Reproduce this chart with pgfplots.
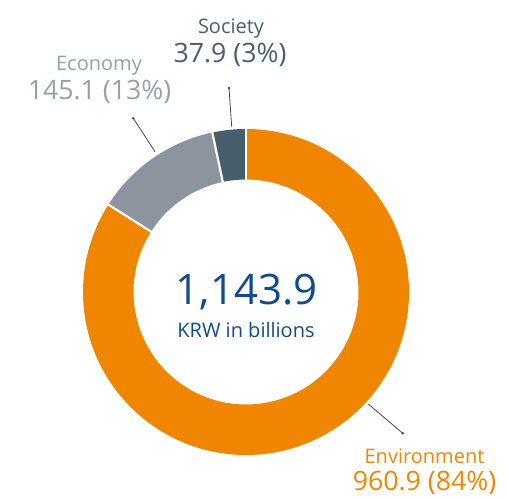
\documentclass[border=0pt]{standalone}
\usepackage{pgfplots}
\pgfplotsset{compat=1.18}
\usepackage{pgfplotstable}
\usepackage{fontspec}
\setmainfont{Open Sans}
\definecolor{envc}{RGB}{240,134,0}
\definecolor{ecoc}{RGB}{140,149,157}
\definecolor{socc}{RGB}{71,95,109}
\definecolor{ecot}{RGB}{150,160,168}
\definecolor{ctrblue}{RGB}{16,75,140}
\definecolor{leader}{RGB}{70,70,70}
\pgfplotstableread{
label value
Environment 960.9
Economy 145.1
Society 37.9
}\datatable
\begin{document}
\begin{tikzpicture}
\pgfplotstablegetelem{0}{value}\of\datatable \let\vEnv\pgfplotsretval
\pgfplotstablegetelem{1}{value}\of\datatable \let\vEco\pgfplotsretval
\pgfplotstablegetelem{2}{value}\of\datatable \let\vSoc\pgfplotsretval
\pgfmathsetmacro\tot{\vEnv+\vEco+\vSoc}
\pgfmathsetmacro\aA{90}
\pgfmathsetmacro\aB{90-360*(\vEnv/\tot)}
\pgfmathsetmacro\aC{\aB-360*(\vEco/\tot)}
\pgfmathsetmacro\aD{\aC-360*(\vSoc/\tot)}
\def\Ro{163pt}\def\Ri{112.5pt}
\begin{axis}[x=1pt,y=1pt,xmin=-246,xmax=260,ymin=-206,ymax=292,
  hide axis,clip=false,scale only axis]
\path (axis cs:-246,-206) rectangle (axis cs:260,292);
% sectors
\fill[envc,shift={(axis cs:0,0)}] (\aA:\Ro) arc[start angle=\aA,end angle=\aB,radius=\Ro] -- (\aB:\Ri) arc[start angle=\aB,end angle=\aA,radius=\Ri] -- cycle;
\fill[ecoc,shift={(axis cs:0,0)}] (\aB:\Ro) arc[start angle=\aB,end angle=\aC,radius=\Ro] -- (\aC:\Ri) arc[start angle=\aC,end angle=\aB,radius=\Ri] -- cycle;
\fill[socc,shift={(axis cs:0,0)}] (\aC:\Ro) arc[start angle=\aC,end angle=\aD,radius=\Ro] -- (\aD:\Ri) arc[start angle=\aD,end angle=\aC,radius=\Ri] -- cycle;
% separators
\draw[white,line width=2.2pt,shift={(axis cs:0,0)}] (\aA:110pt) -- (\aA:166pt);
\draw[white,line width=2.2pt,shift={(axis cs:0,0)}] (\aB:110pt) -- (\aB:166pt);
\draw[white,line width=2.2pt,shift={(axis cs:0,0)}] (\aC:110pt) -- (\aC:166pt);
% leader lines
\draw[leader,line width=0.8pt] (axis cs:-17,204) -- (axis cs:-14.3,165.3);
\fill[leader] (axis cs:-17,204) circle[radius=1.4pt];
\draw[leader,line width=0.8pt] (axis cs:-112.7,173.7) -- (axis cs:-91,140.3);
\fill[leader] (axis cs:-112.7,173.7) circle[radius=1.4pt];
\draw[leader,line width=0.8pt] (axis cs:156.7,-141.3) -- (axis cs:122.3,-112);
\fill[leader] (axis cs:156.7,-141.3) circle[radius=1.4pt];
% labels
\node[anchor=base,text=socc,inner sep=0pt,font=\fontsize{20}{24}\selectfont] at (axis cs:-15,258.7) {Society};
\node[anchor=base,text=socc,inner sep=0pt,font=\fontsize{26.7}{30}\selectfont] at (axis cs:-16,229.3) {37.9 (3\%)};
\node[anchor=base,text=ecot,inner sep=0pt,font=\fontsize{20}{24}\selectfont] at (axis cs:-147,221.3) {Economy};
\node[anchor=base,text=ecot,inner sep=0pt,font=\fontsize{26.7}{30}\selectfont] at (axis cs:-146.5,192.7) {145.1 (13\%)};
\node[anchor=base,text=envc,inner sep=0pt,font=\fontsize{20}{24}\selectfont] at (axis cs:178.5,-171.5) {Environment};
\node[anchor=base,text=envc,inner sep=0pt,font=\fontsize{26.7}{30}\selectfont] at (axis cs:178.5,-199) {960.9 (84\%)};
\node[anchor=base,text=ctrblue,inner sep=0pt,font=\fontsize{42}{48}\selectfont] at (axis cs:0.5,-13) {1,143.9};
\node[anchor=base,text=ctrblue,inner sep=0pt,font=\fontsize{20}{24}\selectfont] at (axis cs:0,-45.3) {KRW in billions};
\end{axis}
\end{tikzpicture}
\end{document}
